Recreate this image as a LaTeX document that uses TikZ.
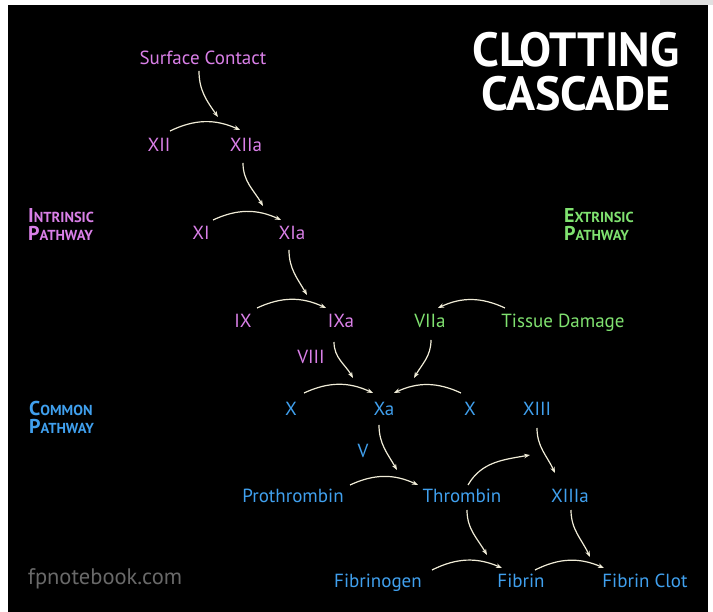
\documentclass[tikz,border=0pt]{standalone}
\usepackage{fontspec}
\setmainfont{PT Sans}
\usetikzlibrary{arrows.meta}

\definecolor{intrcol}{RGB}{218,128,232}
\definecolor{extrcol}{RGB}{128,226,112}
\definecolor{commcol}{RGB}{64,160,238}
\definecolor{flowcol}{RGB}{240,236,215}
\definecolor{sitecol}{RGB}{105,105,105}

% small caps by hand: big first letter, smaller rest
\newcommand{\capword}[2]{{\fontsize{20}{18}\selectfont #1}{\fontsize{14.5}{18}\selectfont #2}}

\begin{document}
\begin{tikzpicture}[x=1pt,y=1pt,
  lbl/.style={inner sep=0pt,text height=13pt,text depth=3.5pt,font=\fontsize{19}{22}\selectfont},
  intr/.style={lbl,text=intrcol},
  extr/.style={lbl,text=extrcol},
  comm/.style={lbl,text=commcol},
  pathlbl/.style={inner sep=0pt,anchor=north west,align=left,font=\fontsize{14.5}{18}\selectfont\bfseries},
  titlelbl/.style={inner sep=0pt,text=white,font=\fontsize{48}{48}\selectfont\bfseries},
  flow/.style={draw=flowcol,line width=1.2pt,-{Stealth[length=6pt,width=4.5pt]}}]
\useasboundingbox (0,0) rectangle (713,612);
\fill[white] (0,0) rectangle (713,612);
\fill[black!12] (660,607) rectangle (713,612);
\fill[black] (8,0) rectangle (708,607);

% title
\node[titlelbl] (t1) at (576,562) {CLOTTING};
\node[titlelbl] (t2) at (576,518) {CASCADE};

% pathway names
\node[pathlbl,text=intrcol] (intrpath) at (28,404) {\capword{I}{NTRINSIC}\\\capword{P}{ATHWAY}};
\node[pathlbl,text=extrcol] (extrpath) at (564,404) {\capword{E}{XTRINSIC}\\\capword{P}{ATHWAY}};
\node[pathlbl,text=commcol] (commpath) at (29,211) {\capword{C}{OMMON}\\\capword{P}{ATHWAY}};

% intrinsic
\node[intr] (sc) at (203,552.5) {Surface Contact};
\node[intr] (xii) at (159,465) {XII};
\node[intr] (xiia) at (246,465) {XIIa};
\node[intr] (xi) at (201,377.5) {XI};
\node[intr] (xia) at (292,377.5) {XIa};
\node[intr] (ix) at (243,289.5) {IX};
\node[intr] (ixa) at (341,289.5) {IXa};
\node[intr] (viii) at (311,253.5) {VIII};

% extrinsic
\node[extr] (viia) at (430,289.5) {VIIa};
\node[extr] (tissue) at (563,289.5) {Tissue Damage};

% common
\node[comm] (xl) at (291,201.5) {X};
\node[comm] (xa) at (384,201.5) {Xa};
\node[comm] (xr) at (470,201.5) {X};
\node[comm] (xiii) at (537,201.5) {XIII};
\node[comm] (v) at (363,159.5) {V};
\node[comm] (pro) at (293,114.5) {Prothrombin};
\node[comm] (thr) at (462,114.5) {Thrombin};
\node[comm] (xiiia) at (570,114.5) {XIIIa};
\node[comm] (fgn) at (378,29) {Fibrinogen};
\node[comm] (fib) at (521,29) {Fibrin};
\node[comm] (clot) at (645,29) {Fibrin Clot};

\node[lbl,text=sitecol,font=\fontsize{22.5}{24}\selectfont] (site) at (105,32.5) {fpnotebook.com};

% arrows
\draw[flow] ([shift={(-4,-11.5)}]sc.center) to[out=-90,in=125] ([shift={(-28,30)}]xiia.center);
\draw[flow] ([shift={(11,16)}]xii.center) to[bend left=25] ([shift={(-6,17)}]xiia.center);
\draw[flow] ([shift={(-3,-16)}]xiia.center) to[out=-90,in=120] ([shift={(-29,28.5)}]xia.center);
\draw[flow] ([shift={(12,14.5)}]xi.center) to[bend left=25] ([shift={(-11,14.5)}]xia.center);
\draw[flow] ([shift={(-3,-15.5)}]xia.center) to[out=-90,in=120] ([shift={(-34,27.5)}]ixa.center);
\draw[flow] ([shift={(14,14.5)}]ix.center) to[bend left=25] ([shift={(-15,14.5)}]ixa.center);
\draw[flow] ([shift={(-58,14.5)}]tissue.center) to[bend right=25] ([shift={(8,14.5)}]viia.center);
\draw[flow] ([shift={(-7,-19.5)}]ixa.center) to[out=-90,in=120] ([shift={(-31,32.5)}]xa.center);
\draw[flow] ([shift={(1,-17.5)}]viia.center) to[out=-90,in=60] ([shift={(30,32.5)}]xa.center);
\draw[flow] ([shift={(13,17.5)}]xl.center) to[bend left=25] ([shift={(-11,17.5)}]xa.center);
\draw[flow] ([shift={(-9,17.5)}]xr.center) to[bend right=25] ([shift={(10,17.5)}]xa.center);
\draw[flow] ([shift={(-5,-14.5)}]xa.center) to[out=-90,in=120] ([shift={(-65,27.5)}]thr.center);
\draw[flow] ([shift={(57,12.5)}]pro.center) to[bend left=25] ([shift={(-44,12.5)}]thr.center);
\draw[flow] ([shift={(6,12.5)}]thr.center) to[out=60,in=190] ([shift={(-7,-44.5)}]xiii.center);
\draw[flow] ([shift={(0,-17.5)}]xiii.center) to[out=-90,in=115] ([shift={(-15,24.5)}]xiiia.center);
\draw[flow] ([shift={(5,-12.5)}]thr.center) to[out=-90,in=120] ([shift={(-34,28)}]fib.center);
\draw[flow] ([shift={(1,-12.5)}]xiiia.center) to[out=-90,in=115] ([shift={(-55,26)}]clot.center);
\draw[flow] ([shift={(54,13)}]fgn.center) to[bend left=25] ([shift={(-19,15)}]fib.center);
\draw[flow] ([shift={(14,13)}]fib.center) to[bend left=25] ([shift={(-41,15)}]clot.center);
\end{tikzpicture}
\end{document}
